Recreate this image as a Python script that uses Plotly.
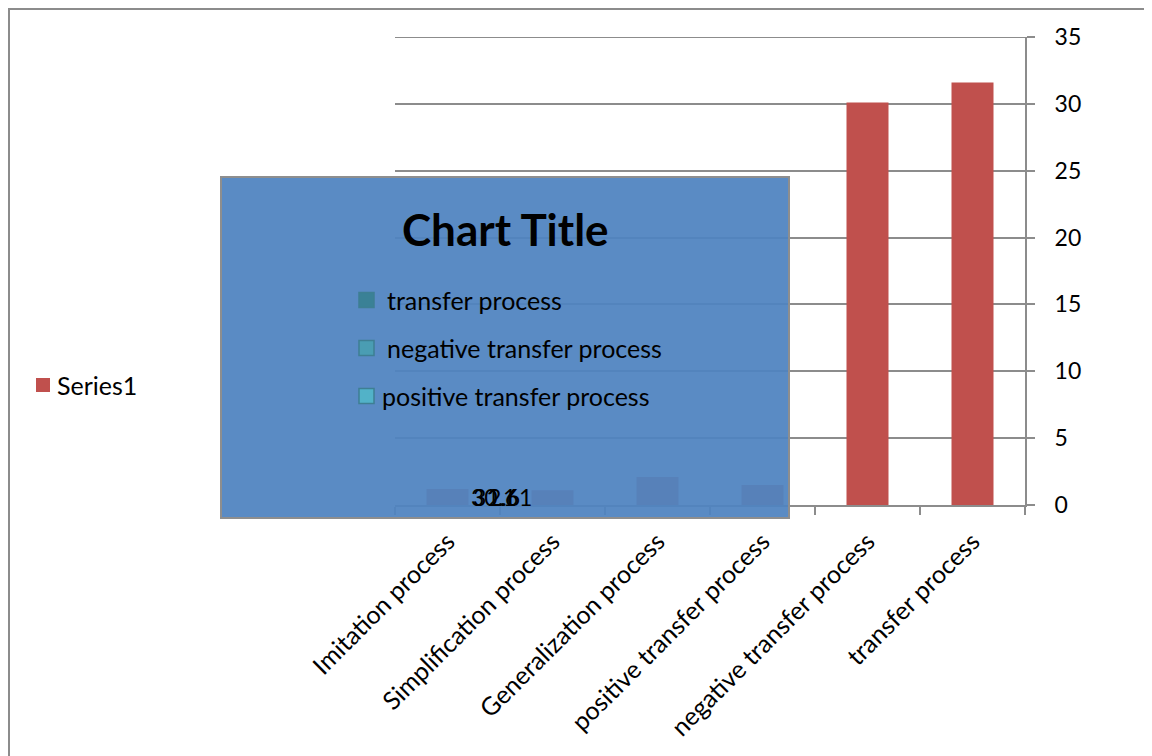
import plotly.graph_objects as go

categories = ["Imitation process", "Simplification process", "Generalization process",
              "positive transfer process", "negative transfer process", "transfer process"]
values = [1.2, 1.1, 2.1, 1.5, 30.1, 31.6]
series_name = "Series1"
y_ticks = [0, 5, 10, 15, 20, 25, 30, 35]
overlay_title = "Chart Title"
overlay_legend = ["transfer process", "negative transfer process", "positive transfer process"]
overlay_colors = ["#3A8196", "#4A9DB3", "#52B2C8"]
overlay_labels = ["30.1", "31.6", "2.6", "1"]

OFF = 8  # page body margin
W, H = 1152 - OFF, 756 - OFF
L, R, T, B = 395, 1025, 37, 505
FONT = "Lato, 'Open Sans', sans-serif"


def px(x):
    return (x - L) / (R - L)


def py(y):
    return (B - y) / (B - T)


fig = go.Figure()
fig.add_trace(go.Bar(
    x=categories, y=values, name=series_name,
    marker=dict(color="#C0504D", line=dict(width=0)),
    width=0.4, showlegend=False,
))

shapes = []
# outer chart border
shapes.append(dict(type="rect", xref="paper", yref="paper",
                   x0=px(9), x1=px(1170), y0=py(9), y1=py(780),
                   line=dict(color="#8C8C8C", width=2), fillcolor="rgba(0,0,0,0)",
                   layer="above"))
# 35 gridline (top edge)
shapes.append(dict(type="line", xref="paper", yref="y",
                   x0=0, x1=1, y0=y_ticks[-1], y1=y_ticks[-1],
                   line=dict(color="#8C8C8C", width=2), layer="below"))
# Series1 legend square
shapes.append(dict(type="rect", xref="paper", yref="paper",
                   x0=px(36), x1=px(50), y0=py(378), y1=py(392),
                   line=dict(width=0), fillcolor="#C0504D", layer="above"))
# blue overlay box
shapes.append(dict(type="rect", xref="paper", yref="paper",
                   x0=px(221), x1=px(789), y0=py(177), y1=py(518),
                   line=dict(color="#8E8E8E", width=2),
                   fillcolor="rgba(80,132,192,0.94)", layer="above"))
# overlay legend squares
sq_x = [359, 359, 359]
sq_y = [300, 348, 396]
for i, c in enumerate(overlay_colors):
    shapes.append(dict(type="rect", xref="paper", yref="paper",
                       x0=px(sq_x[i]), x1=px(sq_x[i] + 15),
                       y0=py(sq_y[i] - 7.5), y1=py(sq_y[i] + 7.5),
                       line=dict(color="#3E7F93", width=1.5), fillcolor=c, layer="above"))

annotations = []
annotations.append(dict(text=series_name, xref="paper", yref="paper",
                        x=px(55), y=py(385), showarrow=False,
                        font=dict(family=FONT, size=25, color="#000000"),
                        xanchor="left", yanchor="middle"))
annotations.append(dict(text=f"<b>{overlay_title}</b>", xref="paper", yref="paper",
                        x=px(505), y=py(229), showarrow=False,
                        font=dict(family=FONT, size=44, color="#000000"),
                        xanchor="center", yanchor="middle"))
txt_x = [385, 385, 380]
for i, t in enumerate(overlay_legend):
    annotations.append(dict(text=t, xref="paper", yref="paper",
                            x=px(txt_x[i]), y=py(sq_y[i]), showarrow=False,
                            font=dict(family=FONT, size=25, color="#000000"),
                            xanchor="left", yanchor="middle"))
lab_x = [469, 471, 486, 517]
for i, t in enumerate(overlay_labels):
    annotations.append(dict(text=t, xref="paper", yref="paper",
                            x=px(lab_x[i]), y=py(497), showarrow=False,
                            font=dict(family=FONT, size=23, color="#000000"),
                            xanchor="left", yanchor="middle"))

fig.update_layout(
    width=W, height=H,
    margin=dict(l=L - OFF, r=W - (R - OFF), t=T - OFF, b=H - (B - OFF), pad=0),
    paper_bgcolor="white", plot_bgcolor="white",
    font=dict(family=FONT, size=22, color="#000000"),
    bargap=0.6,
    showlegend=False,
    xaxis=dict(
        type="category", showgrid=False, showline=True, linecolor="#8C8C8C", linewidth=2,
        ticks="outside", ticklen=8, tickcolor="#8C8C8C", tickwidth=2,
        tickson="boundaries", tickangle=-45, ticklabelstandoff=10,
        tickfont=dict(family=FONT, size=25, color="#000000"),
        zeroline=False,
    ),
    yaxis=dict(
        side="right", range=[0, 35], tickvals=y_ticks,
        showgrid=True, gridcolor="#8C8C8C", gridwidth=2,
        showline=True, linecolor="#8C8C8C", linewidth=2,
        ticks="outside", ticklen=8, tickcolor="#8C8C8C", tickwidth=2,
        tickfont=dict(family=FONT, size=23, color="#000000"),
        zeroline=False, ticklabelstandoff=15,
    ),
    shapes=shapes,
    annotations=annotations,
)

fig.write_html("out.html")
